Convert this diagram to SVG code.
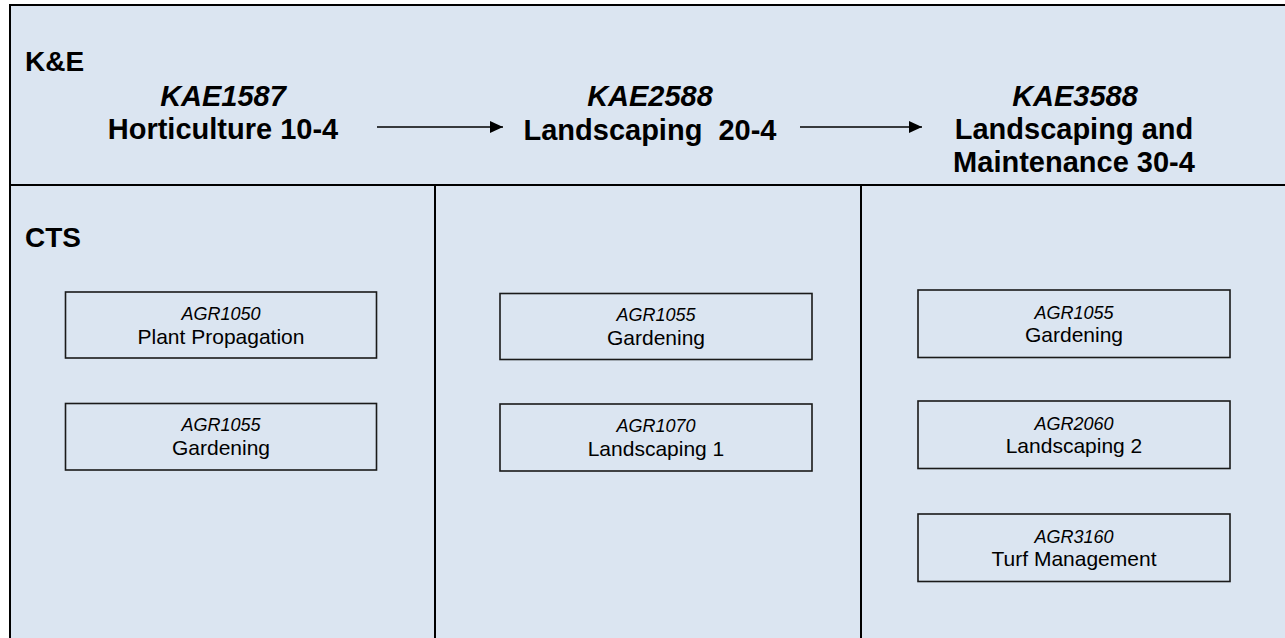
<svg xmlns="http://www.w3.org/2000/svg" width="1285" height="638" viewBox="0 0 1285 638">
<style>
.bg{fill:#DBE5F1}
.frame{stroke:#000;stroke-width:2;fill:none}
.box{fill:none;stroke:#1a1a1a;stroke-width:1.6}
.lbl{font-family:"Liberation Sans",Arial,sans-serif;font-weight:bold;font-size:28px;fill:#000}
.hi{font-family:"Liberation Sans",Arial,sans-serif;font-weight:bold;font-style:italic;font-size:29px;fill:#000;text-anchor:middle}
.hb{font-family:"Liberation Sans",Arial,sans-serif;font-weight:bold;font-size:29px;fill:#000;text-anchor:middle;white-space:pre}
.ci{font-family:"Liberation Sans",Arial,sans-serif;font-style:italic;font-size:18px;fill:#000;text-anchor:middle}
.cn{font-family:"Liberation Sans",Arial,sans-serif;font-size:21px;fill:#000;text-anchor:middle}
.conn{stroke:#000;stroke-width:1.5;fill:none}
</style>
<defs>
<marker id="ah" markerWidth="13" markerHeight="12" refX="13" refY="6" orient="auto" markerUnits="userSpaceOnUse">
<path d="M0,0 L13,6 L0,12 Z" fill="#000"/>
</marker>
</defs>
<rect x="0" y="0" width="1285" height="638" fill="#fff"/>
<rect class="bg" x="10" y="5" width="1275" height="633"/>
<g id="frame">
<line class="frame" x1="10" y1="5" x2="1285" y2="5"/>
<line class="frame" x1="10" y1="4" x2="10" y2="638"/>
<line class="frame" x1="10" y1="185" x2="1285" y2="185"/>
<line class="frame" x1="435" y1="185" x2="435" y2="638"/>
<line class="frame" x1="861" y1="185" x2="861" y2="638"/>
</g>
<g id="labels">
<text class="lbl" x="25" y="71">K&amp;E</text>
<text class="lbl" x="25" y="247">CTS</text>
</g>
<g id="kae1587">
<text class="hi" x="223" y="106">KAE1587</text>
<text class="hb" x="223" y="139">Horticulture 10-4</text>
</g>
<g id="kae2588">
<text class="hi" x="650" y="106">KAE2588</text>
<text class="hb" x="650" y="140" xml:space="preserve">Landscaping  20-4</text>
</g>
<g id="kae3588">
<text class="hi" x="1075" y="106">KAE3588</text>
<text class="hb" x="1074" y="139">Landscaping and</text>
<text class="hb" x="1074" y="172">Maintenance 30-4</text>
</g>
<g id="connectors">
<line class="conn" x1="377" y1="127" x2="503" y2="127" marker-end="url(#ah)"/>
<line class="conn" x1="800" y1="127" x2="922" y2="127" marker-end="url(#ah)"/>
</g>
<g id="c1-agr1050">
<rect class="box" x="65.5" y="292" width="311" height="66"/>
<text class="ci" x="221" y="320">AGR1050</text>
<text class="cn" x="221" y="344">Plant Propagation</text>
</g>
<g id="c1-agr1055">
<rect class="box" x="65.5" y="403.5" width="311" height="66.5"/>
<text class="ci" x="221" y="431">AGR1055</text>
<text class="cn" x="221" y="455">Gardening</text>
</g>
<g id="c2-agr1055">
<rect class="box" x="500" y="293.5" width="312" height="66"/>
<text class="ci" x="656" y="321">AGR1055</text>
<text class="cn" x="656" y="345">Gardening</text>
</g>
<g id="c2-agr1070">
<rect class="box" x="500" y="404" width="312" height="67"/>
<text class="ci" x="656" y="432">AGR1070</text>
<text class="cn" x="656" y="456">Landscaping 1</text>
</g>
<g id="c3-agr1055">
<rect class="box" x="918" y="290" width="312" height="67.5"/>
<text class="ci" x="1074" y="319">AGR1055</text>
<text class="cn" x="1074" y="342">Gardening</text>
</g>
<g id="c3-agr2060">
<rect class="box" x="918" y="401" width="312" height="67.5"/>
<text class="ci" x="1074" y="430">AGR2060</text>
<text class="cn" x="1074" y="453">Landscaping 2</text>
</g>
<g id="c3-agr3160">
<rect class="box" x="918" y="514" width="312" height="67.5"/>
<text class="ci" x="1074" y="543">AGR3160</text>
<text class="cn" x="1074" y="566">Turf Management</text>
</g>
</svg>
